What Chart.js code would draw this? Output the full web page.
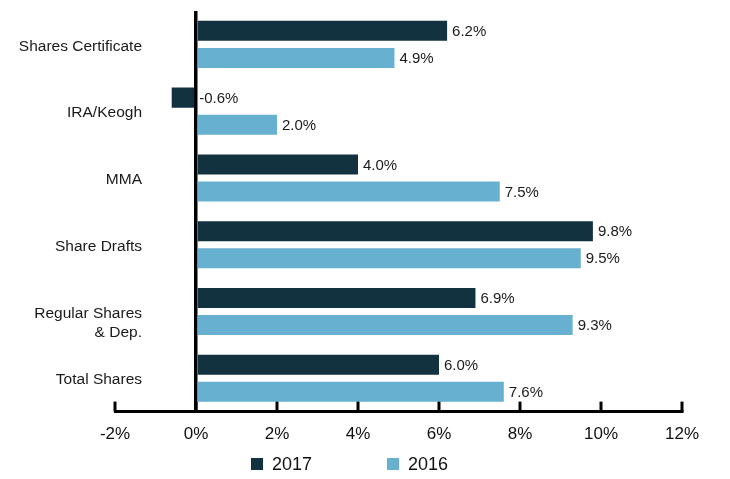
<!DOCTYPE html>
<html>
<head>
<meta charset="utf-8">
<script src="https://cdn.jsdelivr.net/npm/chart.js@4.4.1/dist/chart.umd.min.js"></script>
<style>
  html, body { margin: 0; padding: 0; background: #fff; }
  #wrap { width: 730px; height: 479px; }
</style>
</head>
<body>
<div id="wrap"><canvas id="sharesChart"></canvas></div>
<script>
// 数据
const categories = [
    'Shares Certificate',
    'IRA/Keogh',
    'MMA',
    'Share Drafts',
    ['Regular Shares', '& Dep.'],
    'Total Shares'
];
const values2017 = [6.2, -0.6, 4.0, 9.8, 6.9, 6.0];
const values2016 = [4.9, 2.0, 7.5, 9.5, 9.3, 7.6];
const xTicks = [-2, 0, 2, 4, 6, 8, 10, 12];

const FONT = "'Liberation Sans', Arial, sans-serif";

// 分类标签（向右伸入绘图区，库的刻度标签会被裁剪，所以自己画）
const categoryLabels = {
    id: 'categoryLabels',
    afterDraw(chart) {
        const ctx = chart.ctx;
        const y = chart.scales.y;
        ctx.save();
        ctx.font = '15.5px ' + FONT;
        ctx.fillStyle = '#1a1a1a';
        ctx.textAlign = 'right';
        ctx.textBaseline = 'middle';
        chart.data.labels.forEach((lab, i) => {
            const py = y.getPixelForValue(i) + 2;
            const lines = Array.isArray(lab) ? lab : [lab];
            lines.forEach((line, k) => ctx.fillText(line, 142, py + k * 19));
        });
        ctx.restore();
    }
};

// 数值标签
const valueLabels = {
    id: 'valueLabels',
    afterDatasetsDraw(chart) {
        const ctx = chart.ctx;
        ctx.save();
        ctx.font = '15px ' + FONT;
        ctx.fillStyle = '#1a1a1a';
        ctx.textAlign = 'left';
        ctx.textBaseline = 'middle';
        chart.data.datasets.forEach((ds, i) => {
            chart.getDatasetMeta(i).data.forEach((bar, j) => {
                const v = ds.data[j];
                const end = Math.max(bar.x, bar.base);
                ctx.fillText(v.toFixed(1) + '%', end + 5, bar.y + 1);
            });
        });
        ctx.restore();
    }
};

// 向上的刻度线
const upTicks = {
    id: 'upTicks',
    afterDraw(chart) {
        const ctx = chart.ctx;
        const x = chart.scales.x;
        const bottom = chart.chartArea.bottom;
        ctx.save();
        ctx.strokeStyle = '#000';
        ctx.lineWidth = 3;
        x.ticks.forEach(t => {
            const px = x.getPixelForValue(t.value);
            ctx.beginPath();
            ctx.moveTo(px, bottom - 10);
            ctx.lineTo(px, bottom);
            ctx.stroke();
        });
        ctx.restore();
    }
};

// 图例
const bottomLegend = {
    id: 'bottomLegend',
    afterDraw(chart) {
        const ctx = chart.ctx;
        const starts = [251, 387];
        ctx.save();
        ctx.font = '18px ' + FONT;
        ctx.textBaseline = 'middle';
        ctx.textAlign = 'left';
        chart.data.datasets.forEach((ds, i) => {
            ctx.fillStyle = ds.backgroundColor;
            ctx.fillRect(starts[i], 458, 12, 12);
            ctx.fillStyle = '#111';
            ctx.fillText(ds.label, starts[i] + 21, 465);
        });
        ctx.restore();
    }
};

const ctx1 = document.getElementById('sharesChart').getContext('2d');
const sharesChart = new Chart(ctx1, {
    type: 'bar',
    data: {
        labels: categories,
        datasets: [{
            label: '2017',
            data: values2017,
            backgroundColor: '#13323f'
        }, {
            label: '2016',
            data: values2016,
            backgroundColor: '#68b0cf'
        }]
    },
    options: {
        indexAxis: 'y',
        responsive: true,
        maintainAspectRatio: false,
        animation: false,
        datasets: {
            bar: {
                categoryPercentage: 0.81,
                barPercentage: 0.74
            }
        },
        layout: {
            padding: { left: 0, right: 48, top: 11, bottom: 21 }
        },
        scales: {
            x: {
                min: -2,
                max: 12,
                afterBuildTicks: scale => {
                    scale.ticks = xTicks.map(v => ({ value: v }));
                },
                grid: {
                    drawTicks: false,
                    lineWidth: 3.5,
                    color: c => (c.tick && c.tick.value === 0) ? '#000' : 'rgba(0,0,0,0)'
                },
                border: { display: true, color: '#000', width: 3 },
                ticks: {
                    padding: 13,
                    color: '#111',
                    font: { family: FONT, size: 17 },
                    callback: v => v + '%'
                }
            },
            y: {
                grid: { display: false, drawTicks: false },
                border: { display: false },
                afterFit: scale => { scale.width = 115; },
                ticks: { display: false }
            }
        },
        plugins: {
            legend: { display: false },
            tooltip: { enabled: false }
        }
    },
    plugins: [categoryLabels, valueLabels, upTicks, bottomLegend]
});
</script>
</body>
</html>
